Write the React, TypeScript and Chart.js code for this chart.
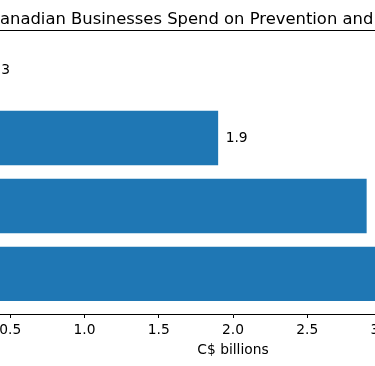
import React, { useEffect, useRef } from "react";
import { Chart, registerables } from "chart.js";

Chart.register(...registerables);

// Data (top bar first)
const categories = ["Other", "Recovery", "Detection", "Prevention"];
const values = [0.3, 1.9, 2.9, 3.8];
const xTicks = [0, 0.5, 1.0, 1.5, 2.0, 2.5, 3.0, 3.5, 4.0];
const titleText = "Canadian Businesses Spend on Prevention and Recovery";
const xTitle = "C$ billions";

const FONT = "DejaVu Sans";
const BAR = "#1f77b4";

const CANVAS_W = 700;
const CANVAS_H = 366;
const SHIFT = 100;

export default function App() {
  const ref = useRef<HTMLCanvasElement | null>(null);

  useEffect(() => {
    if (!ref.current) return;
    const framePlugin = {
      id: "frame",
      afterDraw(chart: any) {
        const { ctx, chartArea } = chart;
        ctx.save();
        ctx.strokeStyle = "#000";
        ctx.lineWidth = 1;
        ctx.beginPath();
        ctx.moveTo(chartArea.left, chartArea.top + 0.5);
        ctx.lineTo(chartArea.right, chartArea.top + 0.5);
        ctx.stroke();
        ctx.fillStyle = "#000";
        ctx.font = `16.4px "${FONT}"`;
        ctx.textAlign = "left";
        ctx.textBaseline = "alphabetic";
        ctx.fillText(titleText, SHIFT - 11.5, 24.3);
        ctx.restore();
      },
    };
    const labelPlugin = {
      id: "barLabels",
      afterDatasetsDraw(chart: any) {
        const { ctx } = chart;
        const meta = chart.getDatasetMeta(0);
        ctx.save();
        ctx.fillStyle = "#000";
        ctx.font = `13.8px "${FONT}"`;
        ctx.textAlign = "left";
        ctx.textBaseline = "middle";
        meta.data.forEach((bar: any, i: number) => {
          ctx.fillText(values[i].toFixed(1), bar.x + 7.5, bar.y);
        });
        ctx.restore();
      },
    };
    const chart = new Chart(ref.current, {
      type: "bar",
      data: {
        datasets: [
          {
            label: "Spend",
            data: categories.map((c, i) => ({ x: values[i], y: i })),
            backgroundColor: BAR,
            borderWidth: 0,
            categoryPercentage: 0.8,
            barPercentage: 1.0,
          } as any,
        ],
      },
      options: {
        indexAxis: "y",
        animation: false,
        responsive: false,
        devicePixelRatio: 1,
        layout: { padding: { left: 36, right: 70, top: 30, bottom: 0 } },
        plugins: { legend: { display: false }, tooltip: { enabled: false }, title: { display: false } },
        scales: {
          y: {
            type: "linear",
            min: -0.59,
            max: 3.59,
            reverse: true,
            offset: false,
            display: false,
            grid: { offset: false },
            afterBuildTicks: (s: any) => {
              s.ticks = categories.map((_, i) => ({ value: i }));
            },
          },
          x: {
            type: "linear",
            min: 0,
            max: 4.0,
            afterBuildTicks: (s: any) => {
              s.ticks = xTicks.map((v) => ({ value: v }));
            },
            afterFit: (s: any) => {
              s.height = 52;
            },
            border: { display: true, color: "#000", width: 1 },
            grid: { drawOnChartArea: false, drawTicks: true, tickLength: 4, color: "#000" },
            ticks: {
              color: "#000",
              padding: 4.5,
              maxRotation: 0,
              font: { family: FONT, size: 13.8 },
              callback: (v: any) => Number(v).toFixed(1),
            },
            title: {
              display: true,
              text: xTitle,
              color: "#000",
              font: { family: FONT, size: 13.8 },
              padding: { top: 0, bottom: 7.5 },
            },
          },
        },
      },
      plugins: [framePlugin, labelPlugin],
    });
    return () => chart.destroy();
  }, []);

  return (
    <div
      style={{
        position: "fixed",
        left: 0,
        top: 0,
        width: 375,
        height: 366,
        overflow: "hidden",
        background: "#fff",
      }}
    >
      <canvas
        ref={ref}
        width={CANVAS_W}
        height={CANVAS_H}
        style={{ position: "absolute", left: -SHIFT, top: 0, width: CANVAS_W, height: CANVAS_H }}
      />
    </div>
  );
}
